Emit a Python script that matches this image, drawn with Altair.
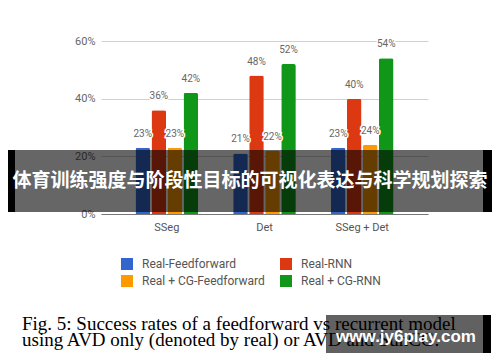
import altair as alt
import pandas as pd

groups = ["SSeg", "Det", "SSeg + Det"]
series = ["Real-Feedforward", "Real-RNN", "Real + CG-Feedforward", "Real + CG-RNN"]
colors = ["#3366cc", "#dc3912", "#ff9900", "#109618"]
real_ff = [0.23, 0.21, 0.23]
real_rnn = [0.36, 0.48, 0.40]
cg_ff = [0.23, 0.22, 0.24]
cg_rnn = [0.42, 0.52, 0.54]
y_ticks = [0, 0.2, 0.4, 0.6]
banner_text = "体育训练强度与阶段性目标的可视化表达与科学规划探索"
watermark_text = "www.jy6play.com"
caption_lines = [
    "Fig. 5: Success rates of a feedforward vs recurrent model",
    "using AVD only (denoted by real) or AVD and SunCG.",
]

rows = []
for s, vals in zip(series, [real_ff, real_rnn, cg_ff, cg_rnn]):
    for g, v in zip(groups, vals):
        rows.append({"group": g, "series": s, "value": v, "label": f"{round(v * 100)}%"})
df = pd.DataFrame(rows)

W, H = 327, 173

x = alt.X(
    "group:N", sort=groups,
    scale=alt.Scale(paddingInner=0.359, paddingOuter=0.353),
    axis=alt.Axis(title=None, labelAngle=0, ticks=False, tickSize=0, domainColor="#777",
                  labelColor="#555", labelFontSize=11, labelFont="Roboto", labelPadding=7),
)
xo = alt.XOffset("series:N", sort=series, scale=alt.Scale(paddingInner=0.09, paddingOuter=0))
y = alt.Y(
    "value:Q", scale=alt.Scale(domain=[0, 0.6]),
    axis=alt.Axis(title=None, values=y_ticks, format=".0%", domain=False, ticks=False, tickSize=0,
                  gridColor="#d0d0d0", labelColor="#666", labelFontSize=11, labelFont="Roboto",
                  labelPadding=6),
)
legend_order = [series[0], series[2], series[1], series[3]]
color = alt.Color(
    "series:N", sort=series,
    scale=alt.Scale(domain=series, range=colors),
    legend=alt.Legend(title=None, orient="none", legendX=20, legendY=217, columns=2,
                      values=legend_order,
                      symbolType="square", symbolSize=144, symbolStrokeWidth=0,
                      labelFont="Roboto", labelFontSize=12, labelColor="#555",
                      columnPadding=15, rowPadding=5, labelOffset=9, padding=0),
)

base = alt.Chart(df).encode(x=x, xOffset=xo, y=y)
bars = base.mark_bar(cornerRadiusTopLeft=2, cornerRadiusTopRight=2).encode(color=color)
halo = base.mark_text(baseline="alphabetic", dy=-11, font="Roboto", fontSize=10,
                      stroke="white", strokeWidth=3, fill="white").encode(text="label:N")
labels = base.mark_text(baseline="alphabetic", dy=-11, font="Roboto", fontSize=10,
                        color="#666").encode(text="label:N")

one = pd.DataFrame({"t": [0]})


def rect(x1, x2, y1, y2, c, op):
    return alt.Chart(one).mark_rect(color=c, opacity=op).encode(
        x=alt.value(x1), x2=alt.value(x2), y=alt.value(y1), y2=alt.value(y2))


def text(t, xx, yy, **kw):
    return alt.Chart(one).mark_text(text=t, **kw).encode(x=alt.value(xx), y=alt.value(yy))


overlays = [
    rect(-101, -86, 109, 171, "black", 1),
    rect(-86, 382, 109, 171, "black", 0.6),
    rect(382, 399, 109, 171, "black", 1),
    text(banner_text, 149, 140, font="Noto Sans CJK SC", fontSize=19, fontWeight="bold",
         color="white", align="center", baseline="middle"),
    text(caption_lines[0], -79, 288.5, font="Liberation Serif", fontSize=19, color="black",
         align="left", baseline="alphabetic"),
    text(caption_lines[1], -79, 304.7, font="Liberation Serif", fontSize=19, color="black",
         align="left", baseline="alphabetic"),
    rect(225, 382, 274, 312, "black", 0.62),
    rect(382, 390, 274, 312, "black", 1),
    text(watermark_text, 305, 296, font="Liberation Sans", fontSize=17, fontWeight="bold",
         color="white", align="center", baseline="middle"),
]

chart = alt.layer(bars, halo, labels, *overlays).properties(
    width=W, height=H,
    autosize=alt.AutoSizeParams(type="none"),
    padding={"left": 93, "top": 33, "right": 64, "bottom": 140},
    background="white",
).configure_view(strokeWidth=0)

chart.save("out.html", embed_options={"renderer": "svg", "actions": False})
